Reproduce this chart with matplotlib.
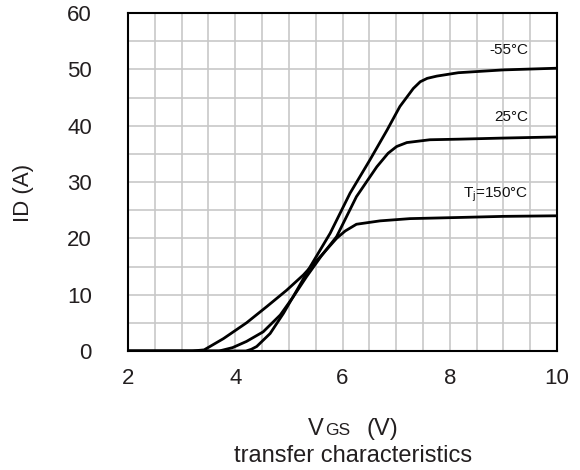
import matplotlib
matplotlib.use("Agg")
import matplotlib.pyplot as plt
from matplotlib.ticker import MultipleLocator

plt.rcParams['font.family'] = ['Liberation Sans', 'DejaVu Sans']

# Data (VGS in V, ID in A)
vgs_m55 = [2.0, 4.20, 4.30, 4.40, 4.65, 4.90, 5.15, 5.40, 5.77, 6.14, 6.51, 6.83, 7.07, 7.32, 7.45, 7.58, 7.76, 8.16, 9.0, 10.0]
id_m55 = [0.0, 0.0, 0.3, 0.8, 3.1, 6.7, 10.8, 15.0, 20.9, 28.0, 33.9, 39.2, 43.4, 46.6, 47.8, 48.4, 48.8, 49.4, 49.9, 50.2]

vgs_25 = [2.0, 3.70, 3.95, 4.21, 4.52, 4.84, 5.08, 5.33, 5.60, 5.89, 6.26, 6.64, 6.85, 7.01, 7.20, 7.63, 8.16, 9.0, 10.0]
id_25 = [0.0, 0.0, 0.6, 1.7, 3.4, 6.4, 9.6, 13.2, 16.8, 20.3, 27.4, 32.7, 35.1, 36.3, 37.0, 37.5, 37.6, 37.8, 38.0]

vgs_150 = [2.0, 3.20, 3.42, 3.78, 4.21, 4.59, 4.96, 5.27, 5.60, 5.89, 6.05, 6.26, 6.70, 7.26, 8.16, 9.0, 10.0]
id_150 = [0.0, 0.0, 0.2, 2.2, 5.0, 7.9, 10.8, 13.5, 16.9, 20.0, 21.3, 22.5, 23.1, 23.5, 23.7, 23.9, 24.0]

curve_labels = ['-55°C', '25°C', 'T$_\\mathregular{j}$=150°C']
label_y = [53.5, 41.6, 27.7]
label_x = 9.46

x_ticks = [2, 4, 6, 8, 10]
y_ticks = [0, 10, 20, 30, 40, 50, 60]

W, H = 580, 470
fig = plt.figure(figsize=(W / 100, H / 100), dpi=100)
ax = fig.add_axes([128 / W, 1 - 351 / H, (557 - 128) / W, (351 - 13) / H])

for v, i in [(vgs_m55, id_m55), (vgs_25, id_25), (vgs_150, id_150)]:
    ax.plot(v, i, color='black', lw=2.0, solid_joinstyle='round', solid_capstyle='round', zorder=3)

for lab, ly in zip(curve_labels, label_y):
    ax.text(label_x, ly, lab, ha='right', va='center', fontsize=11, color='#111111')

ax.set_xlim(2, 10)
ax.set_ylim(0, 60)
ax.set_xticks(x_ticks)
ax.set_yticks(y_ticks)
ax.xaxis.set_minor_locator(MultipleLocator(0.5))
ax.yaxis.set_minor_locator(MultipleLocator(5))
ax.grid(True, which='both', color='#c8c8c8', lw=1.2, zorder=0)
ax.set_axisbelow(True)
ax.tick_params(which='both', length=0)
ax.tick_params(axis='x', pad=12, labelsize=16, labelcolor='#231f20')
ax.tick_params(axis='y', pad=26, labelsize=16, labelcolor='#231f20')
for s in ax.spines.values():
    s.set_linewidth(1.5)
    s.set_color('black')
    s.set_zorder(4)

# axis labels
fig.text(24 / W, 1 - 192.5 / H, 'ID (A)', rotation=90, ha='center', va='center', fontsize=16, color='#231f20')
base = 1 - 435 / H
fig.text(308 / W, base, 'V', ha='left', va='baseline', fontsize=17, color='#231f20')
fig.text(325 / W, base, 'GS', ha='left', va='baseline', fontsize=12.5, color='#231f20')
fig.text(366.5 / W, base, '(V)', ha='left', va='baseline', fontsize=17, color='#231f20')
fig.text(353 / W, 1 - 461.7 / H, 'transfer characteristics', ha='center', va='baseline', fontsize=17, color='#231f20')

fig.savefig('out.png', dpi=100)
